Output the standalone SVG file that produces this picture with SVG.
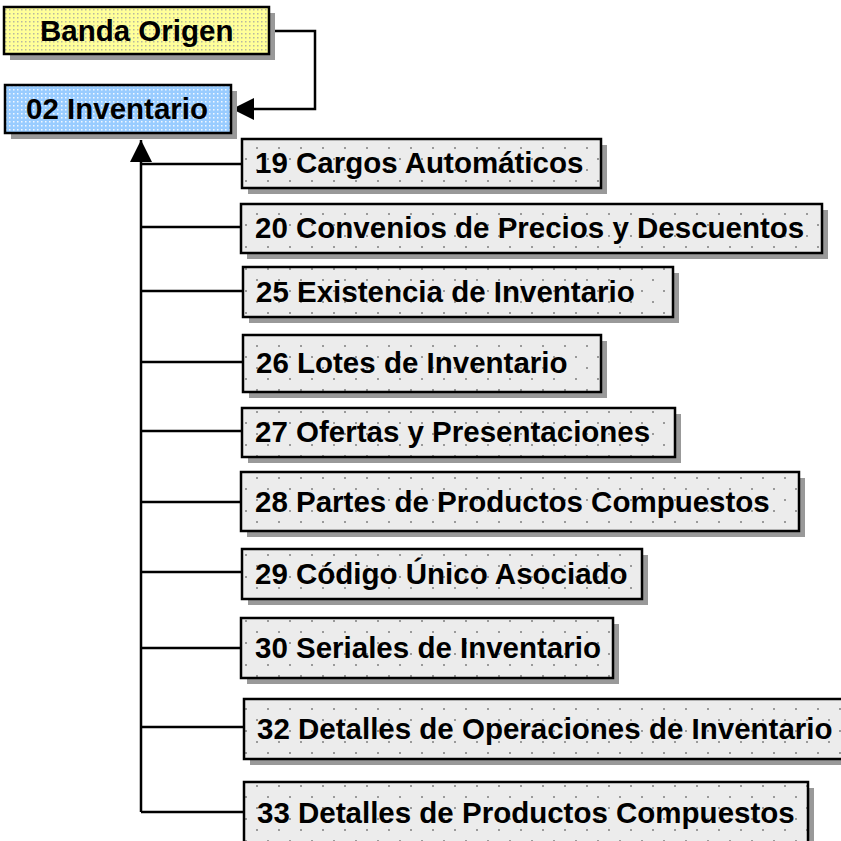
<svg xmlns="http://www.w3.org/2000/svg" width="841" height="841" viewBox="0 0 841 841">
<defs>
<pattern id="pGrey" width="22" height="22" patternUnits="userSpaceOnUse">
<rect width="22" height="22" fill="#ececec"/>
<rect x="3" y="4" width="2" height="2" fill="#9a9a9a"/>
<rect x="14" y="15" width="2" height="2" fill="#9a9a9a"/>
</pattern>
<pattern id="pYellow" width="4" height="4" patternUnits="userSpaceOnUse">
<rect width="4" height="4" fill="#ffff99"/>
<rect x="1" y="1" width="1.5" height="1.5" fill="#b8b8a0"/>
</pattern>
<pattern id="pBlue" width="4" height="4" patternUnits="userSpaceOnUse">
<rect width="4" height="4" fill="#99ccff"/>
<rect x="1" y="1" width="1.5" height="1.5" fill="#f2f8ff"/>
</pattern>
<marker id="arrow" viewBox="0 0 22 22" refX="22" refY="11" markerWidth="22" markerHeight="22" markerUnits="userSpaceOnUse" orient="auto">
<path d="M0,0 L22,11 L0,22 z" fill="#000"/>
</marker>
</defs>
<style>
.shadow{fill:#999999}
.box{stroke:#000;stroke-width:2.5}
.grey{fill:url(#pGrey)}
.yellow{fill:url(#pYellow)}
.blue{fill:url(#pBlue)}
.lbl{font-family:"Liberation Sans",Arial,sans-serif;font-weight:bold;font-size:29.5px;fill:#000}
.conn{fill:none;stroke:#000;stroke-width:2.5}
</style>
<rect width="841" height="841" fill="#fff"/>
<g id="connectors">
<path class="conn" d="M269,31 H315 V109 H232" marker-end="url(#arrow)"/>
<path class="conn" d="M141,812 V140" marker-end="url(#arrow)"/>
<path class="conn" d="M141,164 H242"/>
<path class="conn" d="M141,227 H241"/>
<path class="conn" d="M141,291 H243"/>
<path class="conn" d="M141,362 H243"/>
<path class="conn" d="M141,431 H242"/>
<path class="conn" d="M141,502 H241"/>
<path class="conn" d="M141,572 H242"/>
<path class="conn" d="M141,648 H241"/>
<path class="conn" d="M141,727 H244"/>
<path class="conn" d="M141,812 H244"/>
</g>
<g id="n-banda">
<rect class="shadow" x="10" y="13" width="265" height="47"/>
<rect class="box yellow" x="4" y="7" width="265" height="47"/>
<text class="lbl" x="40" y="41">Banda Origen</text>
</g>
<g id="n-02">
<rect class="shadow" x="11" y="91" width="226" height="48"/>
<rect class="box blue" x="5" y="85" width="226" height="48"/>
<text class="lbl" x="26" y="119">02 Inventario</text>
</g>
<g id="n-19">
<rect class="shadow" x="248" y="145" width="359" height="49"/>
<rect class="box grey" x="242" y="139" width="359" height="49"/>
<text class="lbl" x="255" y="173">19 Cargos Automáticos</text>
</g>
<g id="n-20">
<rect class="shadow" x="247" y="210" width="581" height="49"/>
<rect class="box grey" x="241" y="204" width="581" height="49"/>
<text class="lbl" x="255" y="238">20 Convenios de Precios y Descuentos</text>
</g>
<g id="n-25">
<rect class="shadow" x="249" y="273" width="430" height="50"/>
<rect class="box grey" x="243" y="267" width="430" height="50"/>
<text class="lbl" x="256" y="302">25 Existencia de Inventario</text>
</g>
<g id="n-26">
<rect class="shadow" x="249" y="341" width="358" height="57"/>
<rect class="box grey" x="243" y="335" width="358" height="57"/>
<text class="lbl" x="256" y="373">26 Lotes de Inventario</text>
</g>
<g id="n-27">
<rect class="shadow" x="248" y="414" width="433" height="49"/>
<rect class="box grey" x="242" y="408" width="433" height="49"/>
<text class="lbl" x="255" y="442">27 Ofertas y Presentaciones</text>
</g>
<g id="n-28">
<rect class="shadow" x="247" y="478" width="558" height="59"/>
<rect class="box grey" x="241" y="472" width="558" height="59"/>
<text class="lbl" x="255" y="512">28 Partes de Productos Compuestos</text>
</g>
<g id="n-29">
<rect class="shadow" x="248" y="555" width="400" height="50"/>
<rect class="box grey" x="242" y="549" width="400" height="50"/>
<text class="lbl" x="255" y="584">29 Código Único Asociado</text>
</g>
<g id="n-30">
<rect class="shadow" x="247" y="624" width="372" height="60"/>
<rect class="box grey" x="241" y="618" width="372" height="60"/>
<text class="lbl" x="255" y="658">30 Seriales de Inventario</text>
</g>
<g id="n-32">
<rect class="shadow" x="250" y="705" width="610" height="60"/>
<rect class="box grey" x="244" y="699" width="610" height="60"/>
<text class="lbl" x="257" y="739">32 Detalles de Operaciones de Inventario</text>
</g>
<g id="n-33">
<rect class="shadow" x="250" y="788" width="564" height="70"/>
<rect class="box grey" x="244" y="782" width="564" height="70"/>
<text class="lbl" x="257" y="823">33 Detalles de Productos Compuestos</text>
</g>
</svg>
